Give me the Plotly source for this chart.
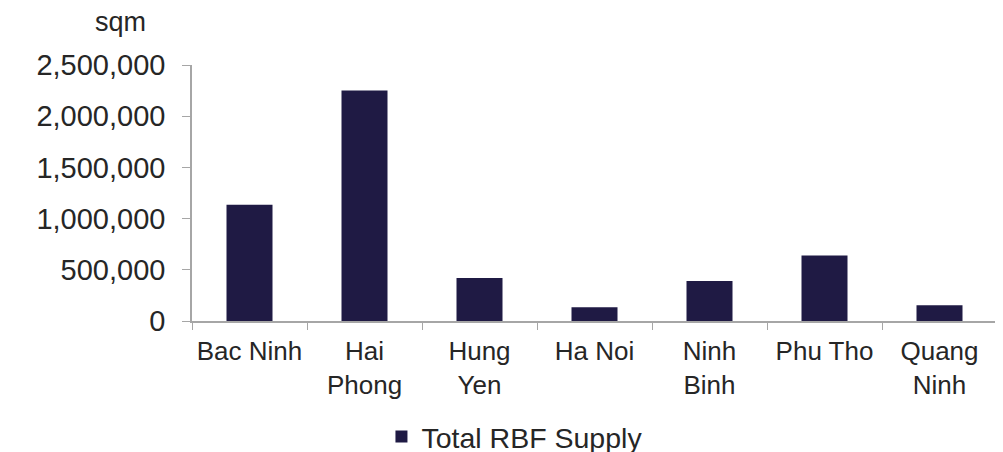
import plotly.graph_objects as go

categories = ["Bac Ninh", "Hai<br>Phong", "Hung<br>Yen", "Ha Noi", "Ninh<br>Binh", "Phu Tho", "Quang<br>Ninh"]
supply_sqm = [1135000, 2250000, 420000, 135000, 390000, 640000, 155000]
y_ticks = [0, 500000, 1000000, 1500000, 2000000, 2500000]

BAR = "#1F1A44"
AXIS = "#A6A6A6"
TEXT = "#262626"
FONT = "Liberation Sans, Arial, sans-serif"

fig = go.Figure()
fig.add_trace(go.Bar(x=categories, y=supply_sqm, name="Total RBF Supply", marker=dict(color=BAR, line=dict(width=0))))

# page body has an 8px margin, so the figure is sized and offset to compensate
fig.update_layout(
    width=995,
    height=444,
    margin=dict(l=184, r=6, t=57, b=131, autoexpand=False),
    plot_bgcolor="white",
    paper_bgcolor="white",
    font=dict(family=FONT, color=TEXT, size=26),
    bargap=0.6,
    showlegend=True,
    legend=dict(
        orientation="h",
        xref="container",
        yref="paper",
        x=0.509,
        xanchor="center",
        y=-0.453,
        yanchor="middle",
        font=dict(size=28.5, color=TEXT),
        itemwidth=30,
    ),
)
fig.update_xaxes(
    showline=True,
    linecolor=AXIS,
    linewidth=1.5,
    ticks="outside",
    tickson="boundaries",
    ticklen=7,
    tickcolor=AXIS,
    ticklabelstandoff=6,
    tickfont=dict(size=26, color=TEXT),
    showgrid=False,
)
fig.update_yaxes(
    range=[0, 2500000],
    tickvals=y_ticks,
    tickformat=",",
    showline=True,
    linecolor=AXIS,
    linewidth=1.5,
    ticks="outside",
    ticklen=8,
    tickcolor=AXIS,
    ticklabelstandoff=11,
    tickfont=dict(size=29, color=TEXT),
    showgrid=False,
    zeroline=False,
)
fig.add_annotation(
    text="sqm",
    xref="paper",
    yref="paper",
    x=-0.0894,
    y=1.168,
    xanchor="center",
    yanchor="middle",
    showarrow=False,
    font=dict(size=27, color=TEXT),
)

fig.write_html("out.html")
